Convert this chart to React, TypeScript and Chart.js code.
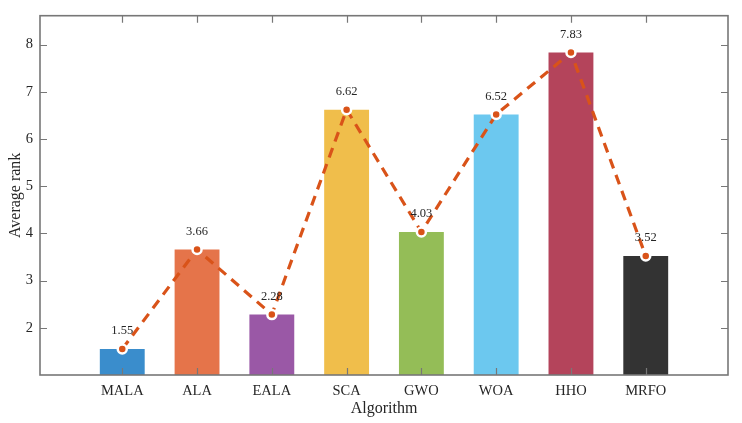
import React, { useEffect, useRef } from "react";
import { Chart, registerables } from "chart.js";

Chart.register(...registerables);

const categories = ["MALA", "ALA", "EALA", "SCA", "GWO", "WOA", "HHO", "MRFO"];
const positions = [1, 2, 3, 4, 5, 6, 7, 8];
const avgRank = [1.55, 3.66, 2.28, 6.62, 4.03, 6.52, 7.83, 3.52];
const barColors = ["#3a8dcc", "#e5744a", "#9a58a6", "#f0be4b", "#94bd57", "#6cc8ef", "#b4445b", "#333333"];
const yTicks = [2, 3, 4, 5, 6, 7, 8];

const FONT = "'Liberation Serif', 'Times New Roman', serif";
const AXIS_COLOR = "#777777";

const boxTicksPlugin = {
  id: "boxTicks",
  afterDatasetsDraw(chart: any) {
    const { ctx, chartArea, scales } = chart;
    const x = scales.x;
    const y = scales.y;
    const len = 7;
    ctx.save();
    ctx.strokeStyle = AXIS_COLOR;
    ctx.lineWidth = 1.2;
    ctx.beginPath();
    for (const v of positions) {
      const px = Math.round(x.getPixelForValue(v)) + 0.5;
      ctx.moveTo(px, chartArea.bottom);
      ctx.lineTo(px, chartArea.bottom - len);
      ctx.moveTo(px, chartArea.top);
      ctx.lineTo(px, chartArea.top + len);
    }
    for (const v of yTicks) {
      const py = Math.round(y.getPixelForValue(v)) + 0.5;
      ctx.moveTo(chartArea.left, py);
      ctx.lineTo(chartArea.left + len, py);
      ctx.moveTo(chartArea.right, py);
      ctx.lineTo(chartArea.right - len, py);
    }
    ctx.stroke();
    ctx.lineWidth = 1.6;
    ctx.strokeRect(chartArea.left, chartArea.top, chartArea.right - chartArea.left, chartArea.bottom - chartArea.top);
    ctx.restore();
  },
  afterDraw(chart: any) {
    const { ctx, scales } = chart;
    ctx.save();
    ctx.fillStyle = "#262626";
    ctx.font = `12.5px ${FONT}`;
    ctx.textAlign = "center";
    ctx.textBaseline = "middle";
    avgRank.forEach((v, i) => {
      const px = scales.x.getPixelForValue(positions[i]);
      const py = scales.y.getPixelForValue(v);
      ctx.fillText(v.toFixed(2), px, py - 18);
    });
    ctx.restore();
  },
};

export default function App() {
  const ref = useRef<HTMLCanvasElement | null>(null);
  useEffect(() => {
    document.body.style.margin = "0";
    const canvas = ref.current;
    if (!canvas) return;
    const chart = new Chart(canvas, {
      type: "bar",
      data: {
        datasets: [
          {
            type: "line",
            data: positions.map((p, i) => ({ x: p, y: avgRank[i] })),
            borderColor: "#d95319",
            borderWidth: 3.2,
            borderDash: [10, 7],
            pointRadius: 4.5,
            pointBorderWidth: 2.5,
            pointBackgroundColor: "#d95319",
            pointBorderColor: "#ffffff",
            fill: false,
            tension: 0,
            order: 0,
          } as any,
          {
            type: "bar",
            data: positions.map((p, i) => ({ x: p, y: avgRank[i] })),
            backgroundColor: barColors,
            borderWidth: 0,
            barPercentage: 0.6,
            categoryPercentage: 1,
            order: 1,
          } as any,
        ],
      },
      options: {
        animation: false,
        responsive: false,
        maintainAspectRatio: false,
        layout: { padding: { top: 12, right: 14, left: 0, bottom: 0 } },
        plugins: { legend: { display: false }, tooltip: { enabled: false } },
        scales: {
          x: {
            type: "linear",
            min: -0.1,
            max: 9.1,
            offset: false,
            afterBuildTicks: (scale: any) => {
              scale.ticks = positions.map((v) => ({ value: v }));
            },
            afterFit: (scale: any) => {
              scale.height = 48;
            },
            grid: { display: false, drawTicks: false },
            border: { display: false },
            ticks: {
              autoSkip: false,
              maxRotation: 0,
              padding: 7,
              color: "#262626",
              font: { family: FONT, size: 14.5 },
              callback: (v: any) => {
                const idx = positions.indexOf(Number(v));
                return idx >= 0 ? categories[idx] : "";
              },
            },
            title: {
              display: true,
              text: "Algorithm",
              color: "#262626",
              font: { family: FONT, size: 16 },
              padding: { top: 0, bottom: 5 },
            },
          },
          y: {
            type: "linear",
            min: 1,
            max: 8.61,
            afterBuildTicks: (scale: any) => {
              scale.ticks = yTicks.map((v) => ({ value: v }));
            },
            afterFit: (scale: any) => {
              scale.width = 40;
            },
            grid: { display: false, drawTicks: false },
            border: { display: false },
            ticks: {
              padding: 7,
              color: "#262626",
              font: { family: FONT, size: 14.5 },
            },
            title: {
              display: true,
              text: "Average rank",
              color: "#262626",
              font: { family: FONT, size: 16 },
              padding: { top: 6, bottom: 0 },
            },
          },
        },
      },
      plugins: [boxTicksPlugin],
    });
    return () => chart.destroy();
  }, []);
  return (
    <div style={{ position: "absolute", left: 0, top: 0, width: 742, height: 423, background: "#fff" }}>
      <canvas ref={ref} width={742} height={423} style={{ width: 742, height: 423 }} />
    </div>
  );
}
